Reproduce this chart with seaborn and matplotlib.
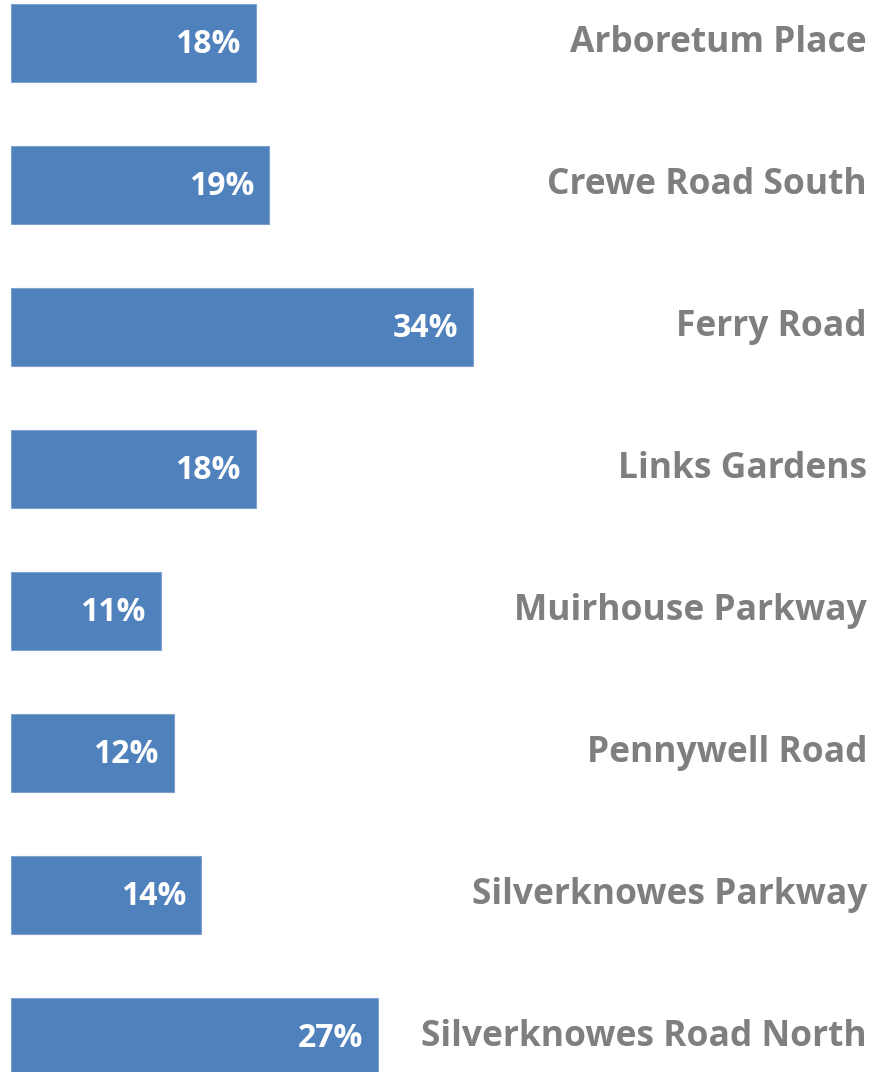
import matplotlib
matplotlib.use("Agg")
import matplotlib.pyplot as plt
import seaborn as sns
import pandas as pd

# data
streets = ["Arboretum Place", "Crewe Road South", "Ferry Road", "Links Gardens",
           "Muirhouse Parkway", "Pennywell Road", "Silverknowes Parkway",
           "Silverknowes Road North"]
shares = [18, 19, 34, 18, 11, 12, 14, 27]

df = pd.DataFrame({"street": streets, "share": shares})

sns.set_style("white")
plt.rcParams["font.family"] = ["Open Sans", "DejaVu Sans"]

bar_blue = "#4F81BD"
label_grey = "#7F7F7F"

fig = plt.figure(figsize=(8.76, 10.72), dpi=100)
ax = fig.add_axes([0, 0, 1, 1])

sns.barplot(data=df, x="share", y="street", orient="h", color=bar_blue,
            saturation=1, width=0.55, edgecolor="#7FA2CF", linewidth=0.8, ax=ax)

# pixel mapping: 0% at x=11px, ~13.6 px per percent; rows 142px apart, first at 43px
px_per_pct = 13.6
ax.set_xlim(-11 / px_per_pct, (876 - 11) / px_per_pct)
ax.set_ylim((1072 - 43) / 142, -43 / 142)

label_x = (867 - 11) / px_per_pct
for i, row in df.iterrows():
    ax.annotate(f"{row['share']}%", xy=(row["share"], i), xytext=(-11, -1),
                textcoords="offset points", ha="right", va="center",
                color="white", fontsize=23, fontweight="bold")
    ax.text(label_x, i, row["street"], ha="right", va="center",
            color=label_grey, fontsize=25.5, fontweight="bold")

ax.set_axis_off()
fig.savefig("out.png", dpi=100)
